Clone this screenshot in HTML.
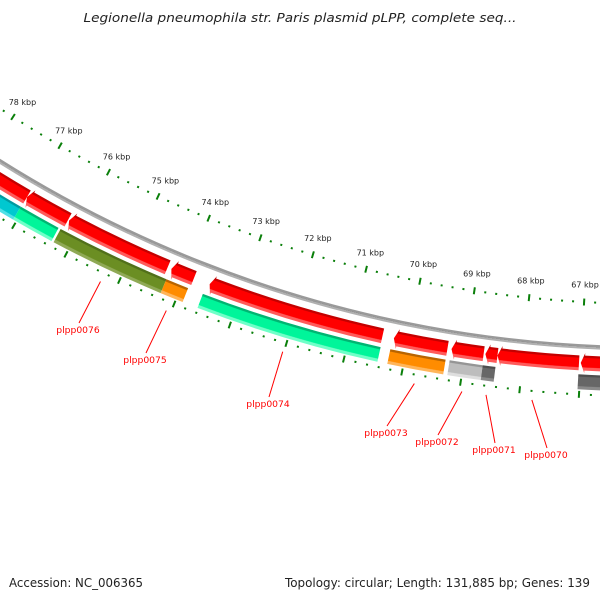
<!DOCTYPE html>
<html><head><meta charset="utf-8"><style>
html,body{margin:0;padding:0;background:#fff;}
svg{display:block;font-family:"DejaVu Sans","Liberation Sans",sans-serif;}
</style></head><body>
<svg id="chart" width="600" height="600" viewBox="0 0 600 600" xmlns="http://www.w3.org/2000/svg">
<defs id="defs"></defs>
<text x="300" y="22" text-anchor="middle" font-size="12" font-style="italic" fill="#222" textLength="433" lengthAdjust="spacingAndGlyphs">Legionella pneumophila str. Paris plasmid pLPP, complete seq...</text>
<g id="ticks"></g>
<g id="backbone"></g>
<g id="genes"></g>
<g id="labels"></g>
<text x="9" y="587" font-size="12" fill="#222" textLength="134" lengthAdjust="spacingAndGlyphs">Accession: NC_006365</text>
<text x="590" y="587" text-anchor="end" font-size="12" fill="#222" textLength="305" lengthAdjust="spacingAndGlyphs">Topology: circular; Length: 131,885 bp; Genes: 139</text>
</svg>
<script>
// ---- data (kbp) ----
const tickLabelKbp = [66, 67, 68, 69, 70, 71, 72, 73, 74, 75, 76, 77, 78, 79];
const lane1Starts = [77.05, 76.24, 74.34, 73.85, 70.45, 69.31, 68.68, 68.44, 67.03, 64.5];
const lane1Ends   = [79.5, 77.05, 76.22, 74.27, 73.56, 70.25, 69.24, 68.65, 68.44, 67.00];
const lane2Starts = [77.06, 76.32, 74.28, 73.88, 70.44, 69.31, 68.67, 68.45, 64.5];
const lane2Ends   = [79.5, 77.06, 76.28, 74.28, 73.61, 70.27, 69.24, 68.67, 67.03];
const lane2Colors = ["cyan", "green", "olive", "orange", "green", "orange", "lightgray", "darkgray", "darkgray"];
const labelNames = ["plpp0076", "plpp0075", "plpp0074", "plpp0073", "plpp0072", "plpp0071", "plpp0070"];
const labelKbp   = [75.28, 74.08, 72.02, 69.76, 68.955, 68.55, 67.78];
// label text anchor layout (pixels)
const labelEndX = [79, 146, 269, 387, 438, 495, 547];
const labelEndY = [323, 353, 397, 426, 435, 443, 448];

// ---- geometry ----
const CX = 648.9, CY = -871.7;
const ang = k => (122.75 - (78 - k) * 2.69) * Math.PI / 180;
const px = (r, k) => [CX + r * Math.cos(ang(k)), CY + r * Math.sin(ang(k))];
const NS = "http://www.w3.org/2000/svg";
const R_TICK_OUT = 1175.5, R_LABEL = 1158, R_BACK = 1220, R_TICK_IN = 1268;
const L1 = [1229, 1244], L2 = [1248, 1263];
const GR = 1300;

const palettes = {
  red: ["#c40000", "#ff0000", "#ff5a5a"],
  cyan: ["#009aa0", "#00c8d0", "#50e0e6"],
  green: ["#00b572", "#00f59a", "#70ffc8"],
  olive: ["#51701a", "#6b8e23", "#8fa955"],
  orange: ["#b86400", "#ff8c00", "#ffb55a"],
  lightgray: ["#959595", "#bdbdbd", "#dedede"],
  darkgray: ["#4e4e4e", "#676767", "#8a8a8a"]
};
const defs = document.getElementById("defs");
function makeGrad(id, rIn, rOut, cols) {
  const g = document.createElementNS(NS, "radialGradient");
  g.setAttribute("id", id);
  g.setAttribute("gradientUnits", "userSpaceOnUse");
  g.setAttribute("cx", CX); g.setAttribute("cy", CY);
  g.setAttribute("fx", CX); g.setAttribute("fy", CY);
  g.setAttribute("r", GR);
  const span = rOut - rIn;
  const stops = [[rIn, cols[0]], [rIn + 2, cols[0]], [rIn + 2.6, cols[1]], [rOut - 3.5, cols[1]], [rOut - 2.8, cols[2]], [rOut, cols[2]]];
  stops.forEach(s => {
    const st = document.createElementNS(NS, "stop");
    st.setAttribute("offset", (s[0] / GR).toFixed(6));
    st.setAttribute("stop-color", s[1]);
    g.appendChild(st);
  });
  defs.appendChild(g);
}
makeGrad("g-red", L1[0], L1[1], palettes.red);
Object.keys(palettes).forEach(k => { if (k !== "red") makeGrad("g-" + k, L2[0], L2[1], palettes[k]); });
makeGrad("g-back", R_BACK - 2.5, R_BACK + 2.5, ["#9a9a9a", "#8a8a8a", "#b0b0b0"]);

// ---- ticks ----
const tg = document.getElementById("ticks");
for (let i = 320; i <= 400; i++) {
  const k = i / 5;
  const major = i % 5 === 0;
  [R_TICK_OUT, R_TICK_IN].forEach(r => {
    const h = major ? 3.5 : 1;
    const a = px(r - h, k), b = px(r + h, k);
    const ln = document.createElementNS(NS, "line");
    
    
    ln.setAttribute("x1", a[0]); ln.setAttribute("y1", a[1]);
    ln.setAttribute("x2", b[0]); ln.setAttribute("y2", b[1]);
    ln.setAttribute("stroke", "#0a7f0a");
    ln.setAttribute("stroke-width", "2");
    tg.appendChild(ln);
  });
}
tickLabelKbp.forEach(k => {
  const p = px(R_LABEL, k);
  const t = document.createElementNS(NS, "text");
  
  
  t.setAttribute("x", p[0]); t.setAttribute("y", p[1] + 3);
  t.setAttribute("text-anchor", "middle");
  t.setAttribute("font-size", "8");
  t.setAttribute("fill", "#222");
  t.textContent = k + " kbp";
  tg.appendChild(t);
});

// ---- backbone ----
const bb = document.createElementNS(NS, "circle");


bb.setAttribute("cx", CX); bb.setAttribute("cy", CY); bb.setAttribute("r", R_BACK);
bb.setAttribute("fill", "none");
bb.setAttribute("stroke", "url(#g-back)");
bb.setAttribute("stroke-width", "4.5");
document.getElementById("backbone").appendChild(bb);

// ---- genes ----
const gg = document.getElementById("genes");
function f(p) { return p[0].toFixed(2) + " " + p[1].toFixed(2); }
function arcPath(rIn, rOut, k1, k2, arrow) {
  let d;
  if (arrow) {
    const headDeg = 4 / ((rIn + rOut) / 2) * 180 / Math.PI / 2.69;
    const kh = Math.max(k1, k2 - headDeg);
    const rm = (rIn + rOut) / 2;
    d = "M" + f(px(rIn, k1)) + " A" + rIn + " " + rIn + " 0 0 1 " + f(px(rIn, kh)) +
        " L" + f(px(rIn - 2.5, kh)) + " L" + f(px(rm, k2)) + " L" + f(px(rOut + 2.5, kh)) +
        " L" + f(px(rOut, kh)) + " A" + rOut + " " + rOut + " 0 0 0 " + f(px(rOut, k1)) + " Z";
  } else {
    d = "M" + f(px(rIn, k1)) + " A" + rIn + " " + rIn + " 0 0 1 " + f(px(rIn, k2)) +
        " L" + f(px(rOut, k2)) + " A" + rOut + " " + rOut + " 0 0 0 " + f(px(rOut, k1)) + " Z";
  }
  return d;
}
lane1Starts.forEach((s, i) => {
  const p = document.createElementNS(NS, "path");
  
  
  p.setAttribute("d", arcPath(L1[0], L1[1], s, lane1Ends[i], true));
  p.setAttribute("fill", "url(#g-red)");
  gg.appendChild(p);
});
lane2Starts.forEach((s, i) => {
  const p = document.createElementNS(NS, "path");
  
  
  p.setAttribute("d", arcPath(L2[0], L2[1], s, lane2Ends[i], false));
  p.setAttribute("fill", "url(#g-" + lane2Colors[i] + ")");
  gg.appendChild(p);
});

// ---- labels ----
const lg = document.getElementById("labels");
labelNames.forEach((n, i) => {
  const a = px(1277, labelKbp[i]);
  const ln = document.createElementNS(NS, "line");
  
  
  ln.setAttribute("x1", a[0]); ln.setAttribute("y1", a[1]);
  ln.setAttribute("x2", labelEndX[i]); ln.setAttribute("y2", labelEndY[i]);
  ln.setAttribute("stroke", "#ff0000");
  ln.setAttribute("stroke-width", "1");
  lg.appendChild(ln);
  const t = document.createElementNS(NS, "text");
  
  
  t.setAttribute("x", labelEndX[i] - 1); t.setAttribute("y", labelEndY[i] + 10);
  t.setAttribute("text-anchor", "middle");
  t.setAttribute("font-size", "9.2");
  t.setAttribute("fill", "#ff0000");
  t.textContent = n;
  lg.appendChild(t);
});
</script>
</body></html>
